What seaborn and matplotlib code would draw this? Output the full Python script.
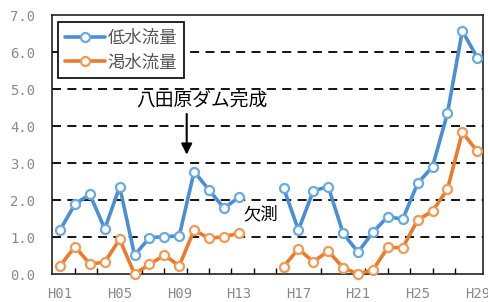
import numpy as np
import pandas as pd
import matplotlib
matplotlib.use('Agg')
import matplotlib.pyplot as plt
import seaborn as sns
from matplotlib.ticker import FixedLocator

# --- data ---
years = [f'H{i:02d}' for i in range(1, 30)]
low_flow = [1.19, 1.89, 2.15, 1.22, 2.36, 0.51, 0.98, 1.01, 1.03, 2.77,
            2.27, 1.78, 2.07, np.nan, np.nan, 2.33, 1.19, 2.25, 2.36, 1.10,
            0.59, 1.13, 1.55, 1.48, 2.45, 2.90, 4.34, 6.57, 5.85]
drought_flow = [0.22, 0.74, 0.27, 0.32, 0.94, 0.0, 0.26, 0.51, 0.22, 1.19,
                0.96, 1.01, 1.10, np.nan, np.nan, 0.20, 0.68, 0.33, 0.62, 0.17,
                0.0, 0.11, 0.72, 0.71, 1.46, 1.70, 2.29, 3.83, 3.32]
series_names = ['低水流量', '渇水流量']
tick_labels = ['H01', 'H05', 'H09', 'H13', 'H17', 'H21', 'H25', 'H29']

colors = {'低水流量': '#4a8fd3', '渇水流量': '#ec7a2c'}
edge_colors = {'低水流量': '#6aaae0', '渇水流量': '#f09a55'}

# long-form table, split into segments around the missing years
rows = []
for name, vals in zip(series_names, [low_flow, drought_flow]):
    seg = 0
    for i, v in enumerate(vals):
        if np.isnan(v):
            seg = 1
            continue
        rows.append({'x': i, 'value': v, 'series': name, 'seg': f'{name}{seg}'})
df = pd.DataFrame(rows)

sns.set_style('white')
plt.rcParams['font.family'] = ['Noto Sans CJK JP', 'DejaVu Sans']

fig = plt.figure(figsize=(4.88, 3.02), dpi=100)
ax = fig.add_axes([0.1066, 0.0927, 0.8832, 0.8576])

sns.lineplot(data=df, x='x', y='value', hue='series', units='seg',
             estimator=None, palette=colors, hue_order=series_names,
             linewidth=2.6, marker='o', markersize=6.5, ax=ax, legend=False,
             zorder=3)

for line in ax.get_lines():
    c = matplotlib.colors.to_hex(line.get_color())
    name = [k for k, v in colors.items() if v == c]
    line.set_markerfacecolor('white')
    line.set_markeredgecolor(edge_colors[name[0]] if name else c)
    line.set_markeredgewidth(1.6)
    line.set_clip_on(False)

# axes styling
ax.set_xlim(-0.54, 28.39)
ax.set_ylim(0, 7)
ax.set_yticks(np.arange(0, 7.01, 1.0))
ax.set_yticklabels([f'{v:.1f}' for v in np.arange(0, 7.01, 1.0)])
ax.set_xticks(range(0, 29, 4))
ax.set_xticklabels(tick_labels)
ax.xaxis.set_minor_locator(FixedLocator(np.arange(1, 28.1, 1.5)))
ax.tick_params(axis='both', which='major', length=0, labelsize=10,
               labelcolor='#8a8a8a')
ax.tick_params(axis='y', which='major', pad=12)
ax.tick_params(axis='x', which='major', pad=9)
ax.tick_params(axis='x', which='minor', direction='in', length=4,
               width=1.0, color='black', bottom=True)
for lab in ax.get_xticklabels() + ax.get_yticklabels():
    lab.set_family('DejaVu Sans Mono')
ax.set_xlabel('')
ax.set_ylabel('')

for s in ax.spines.values():
    s.set_color('#222222')
    s.set_linewidth(1.2)

ax.grid(False)
for yv in range(1, 7):
    ax.axhline(yv, color='black', linestyle=(0, (5, 3.5)), linewidth=1.3, zorder=1)

# legend
handles = [plt.Line2D([], [], color=colors[n], lw=2.6, marker='o', markersize=6.5,
                      markerfacecolor='white', markeredgecolor=edge_colors[n],
                      markeredgewidth=1.6) for n in series_names]
leg = ax.legend(handles, series_names, loc='upper left',
                bbox_to_anchor=(0.014, 0.972), fancybox=False, framealpha=1,
                edgecolor='black', fontsize=12.5, handlelength=2.3,
                labelspacing=0.35, borderpad=0.4, handletextpad=0.15,
                borderaxespad=0)
leg.get_frame().set_linewidth(1.2)
for t in leg.get_texts():
    t.set_color('#555555')
leg.set_zorder(5)

# annotations
ax.annotate('', xy=(8.5, 3.15), xytext=(8.5, 4.4),
            arrowprops=dict(arrowstyle='-|>', color='black', lw=1.5,
                            mutation_scale=16))
ax.text(9.5, 4.7, '八田原ダム完成', ha='center', va='center', fontsize=13.5,
        color='black')
ax.text(13.5, 1.6, '欠測', ha='center', va='center', fontsize=12.5, color='black')

fig.savefig('out.png', dpi=100)
